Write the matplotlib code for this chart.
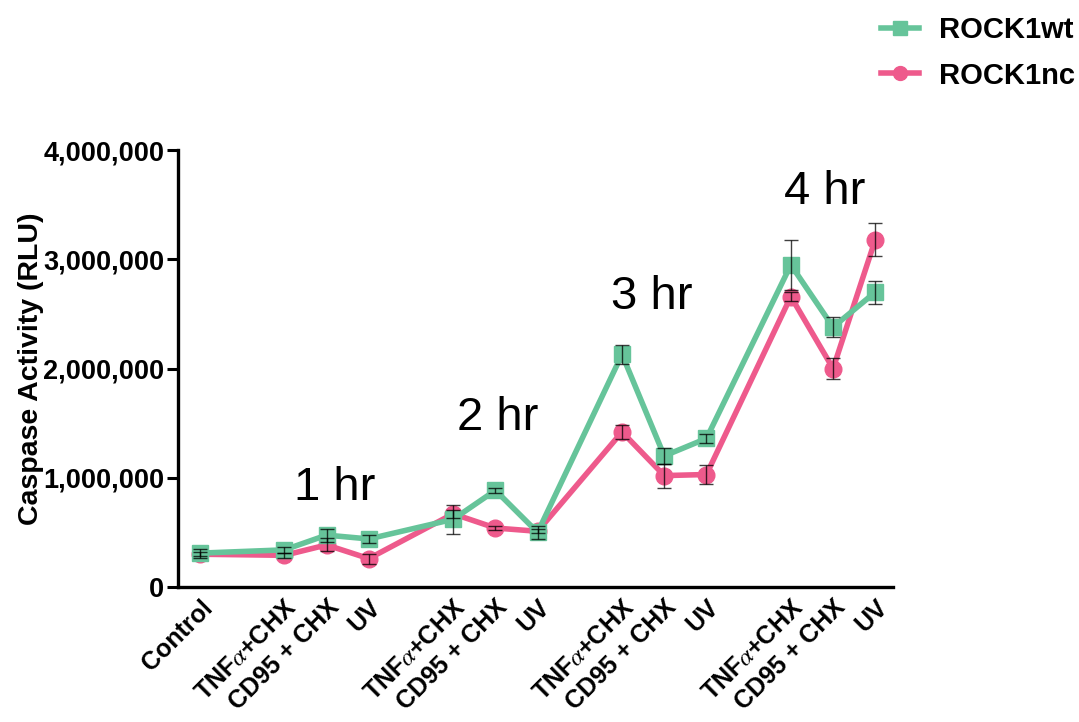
import matplotlib
matplotlib.use("Agg")
import matplotlib.pyplot as plt
from matplotlib.ticker import FuncFormatter
from matplotlib.lines import Line2D

plt.rcParams["font.family"] = ["Liberation Sans", "DejaVu Sans"]
plt.rcParams["mathtext.fontset"] = "stix"

# treatment groups: control, then TNFa/CD95/UV at 1, 2, 3 and 4 hr
labels = ["Control",
          r"TNF$\alpha$+CHX", "CD95 + CHX", "UV",
          r"TNF$\alpha$+CHX", "CD95 + CHX", "UV",
          r"TNF$\alpha$+CHX", "CD95 + CHX", "UV",
          r"TNF$\alpha$+CHX", "CD95 + CHX", "UV"]
xpos = [0, 2, 3, 4, 6, 7, 8, 10, 11, 12, 14, 15, 16]

wt_mean = [310000, 340000, 475000, 440000, 620000, 885000, 500000,
           2130000, 1200000, 1360000, 2950000, 2380000, 2700000]
wt_sem = [40000, 25000, 60000, 40000, 135000, 20000, 60000,
          88000, 70000, 45000, 230000, 88000, 105000]
nc_mean = [300000, 290000, 385000, 260000, 670000, 540000, 510000,
           1420000, 1020000, 1030000, 2660000, 2000000, 3180000]
nc_sem = [20000, 20000, 60000, 45000, 35000, 15000, 20000,
          65000, 110000, 85000, 40000, 95000, 150000]

timepoints = ["1 hr", "2 hr", "3 hr", "4 hr"]
tp_x = [3.2, 7.05, 10.7, 14.8]
tp_y = [905000, 1545000, 2655000, 3615000]

GREEN = "#66c49a"
PINK = "#ee5a8c"

fig = plt.figure(figsize=(10.79, 7.22), dpi=100)
ax = fig.add_axes([0.165, 0.187, 0.663, 0.605])

ax.plot(xpos, wt_mean, color=GREEN, lw=4, marker="s", ms=12, zorder=3)
ax.plot(xpos, nc_mean, color=PINK, lw=4, marker="o", ms=12, zorder=2)
ax.errorbar(xpos, wt_mean, yerr=wt_sem, fmt="none", ecolor="black",
            elinewidth=1.0, capsize=5, capthick=1.0, alpha=0.75, zorder=4)
ax.errorbar(xpos, nc_mean, yerr=nc_sem, fmt="none", ecolor="black",
            elinewidth=1.0, capsize=5, capthick=1.0, alpha=0.75, zorder=4)

for t, x, y in zip(timepoints, tp_x, tp_y):
    ax.text(x, y, t, fontsize=34, ha="center", va="center")

ax.set_xlim(-0.52, 16.43)
ax.set_ylim(0, 4000000)
ax.set_yticks([0, 1000000, 2000000, 3000000, 4000000])
ax.yaxis.set_major_formatter(FuncFormatter(lambda v, p: f"{int(v):,}"))
ax.set_xticks(xpos)
ax.set_xticklabels(labels, rotation=45, ha="right", rotation_mode="anchor",
                   fontsize=18, fontweight="bold")
ax.tick_params(axis="x", length=0, pad=6)
ax.tick_params(axis="y", length=8, width=2.2, labelsize=19.5, pad=2)
for lab in ax.get_yticklabels():
    lab.set_fontweight("bold")
ax.set_ylabel("Caspase Activity (RLU)", fontsize=20.5, fontweight="bold",
              labelpad=-1)

for s in ("top", "right"):
    ax.spines[s].set_visible(False)
for s in ("left", "bottom"):
    ax.spines[s].set_linewidth(2.4)

handles = [Line2D([], [], color=GREEN, lw=4, marker="s", ms=10),
           Line2D([], [], color=PINK, lw=4, marker="o", ms=10)]
fig.legend(handles, ["ROCK1wt", "ROCK1nc"], loc="upper right",
           bbox_to_anchor=(1.021, 1.014), frameon=False,
           prop={"weight": "bold", "size": 21}, handlelength=1.3,
           handletextpad=0.7, labelspacing=0.6)

fig.savefig("out.png", dpi=100, facecolor="white")
